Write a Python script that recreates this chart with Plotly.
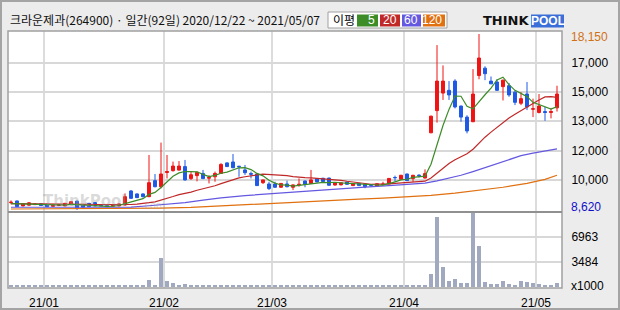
import pandas as pd
import plotly.graph_objects as go

# ---------------- data ----------------
holidays = ["2020-12-25", "2020-12-31", "2021-01-01", "2021-02-11",
            "2021-02-12", "2021-03-01", "2021-05-05"]
dates = [d for d in pd.bdate_range("2020-12-22", "2021-05-07")
         if d.strftime("%Y-%m-%d") not in holidays]

opens = [9020, 9110, 8840, 8880, 8910, 8960, 8930, 8820, 8860, 8840,
         8950, 9100, 8890, 8980, 9020, 8900, 8860, 8830, 8840, 8890,
         9650, 9490, 9490, 9340, 10210, 9880, 10650, 10750, 10780, 10970,
         10320, 10480, 10600, 10340, 10420, 10600, 11170, 11220, 10990, 10790,
         10590, 10570, 10100, 10030, 10030, 9850, 10030, 9850, 9990, 10190,
         10060, 10320, 10340, 10350, 9970, 9980, 10130, 9940, 10060, 10020,
         9980, 9920, 10000, 10030, 10380, 10280, 10570, 10320, 10510, 10350,
         12800, 14000, 14950, 15100, 15600, 14250, 13650, 13400, 15900, 16300,
         15600, 15550, 15300, 15350, 15000, 14400, 14900, 14080, 13900, 13950,
         13900, 14150]
highs = [9140, 9130, 8970, 9050, 8980, 8980, 8950, 8900, 8940, 9000,
         9090, 9120, 8900, 9000, 9030, 8920, 8880, 8890, 8970, 9520,
         9700, 9520, 9520, 11600, 10570, 12270, 11600, 11240, 11270, 11330,
         10700, 10700, 10790, 10500, 10700, 11150, 11200, 11650, 11010, 11060,
         10700, 10590, 10260, 10150, 10150, 10080, 10210, 10000, 10330, 10210,
         10790, 10340, 10360, 10370, 10120, 10120, 10150, 10070, 10080, 10040,
         10000, 10060, 10150, 10350, 10480, 10520, 10590, 10520, 10550, 10820,
         13730, 17550, 16450, 15600, 15700, 14270, 13750, 16250, 18150, 16400,
         15850, 15700, 15680, 15500, 15100, 15000, 15550, 14650, 14900, 14200,
         14150, 15350]
lows = [8930, 8790, 8820, 8860, 8890, 8840, 8780, 8800, 8840, 8830,
        8930, 8620, 8750, 8790, 8820, 8830, 8780, 8810, 8820, 8870,
        9230, 9270, 9300, 9320, 9850, 9790, 10330, 10700, 10760, 10210,
        10250, 10170, 10300, 10060, 10150, 10580, 10950, 10880, 10420, 10520,
        10330, 9920, 10030, 9700, 9830, 9830, 9850, 9700, 9880, 9850,
        10040, 10120, 10140, 9940, 9950, 9960, 9990, 9920, 9920, 9800,
        9880, 9900, 9990, 10010, 10150, 10260, 10190, 10150, 10380, 10330,
        12780, 13350, 14580, 14580, 14120, 13400, 12770, 13380, 15700, 15650,
        15450, 15080, 14550, 14750, 14300, 14300, 14030, 13650, 13850, 13450,
        13580, 13950]
closes = [9040, 8800, 8950, 9010, 8940, 8860, 8800, 8860, 8900, 8980,
          9070, 8710, 8770, 8800, 8840, 8850, 8800, 8870, 8950, 9340,
          9250, 9290, 9340, 10100, 9880, 10570, 10700, 11000, 11000, 10250,
          10530, 10660, 10320, 10380, 10600, 11090, 10970, 10910, 10960, 10640,
          10560, 9940, 10250, 9780, 9850, 10060, 9880, 9980, 10010, 10010,
          10250, 10140, 10160, 9960, 10100, 10100, 10010, 10050, 9940, 9880,
          9960, 10040, 10020, 10330, 10370, 10500, 10210, 10500, 10480, 10590,
          13700, 15600, 15600, 14850, 14200, 13650, 12900, 14900, 16850, 16000,
          15450, 15100, 15650, 14850, 14450, 14650, 14200, 14100, 14250, 13900,
          13950, 14900]
volumes = [160, 150, 130, 170, 140, 150, 120, 140, 130, 160,
           180, 200, 150, 140, 130, 120, 140, 130, 150, 180,
           170, 160, 150, 1000, 290, 4050, 850, 520, 240, 380,
           150, 130, 140, 120, 150, 240, 140, 240, 150, 130,
           140, 160, 130, 150, 140, 130, 120, 140, 150, 130,
           240, 150, 140, 130, 120, 140, 150, 130, 140, 120,
           130, 140, 150, 160, 140, 130, 150, 140, 160, 240,
           1790, 9820, 2780, 800, 1080, 520, 520, 10450, 5730, 660,
           380, 380, 800, 380, 240, 800, 660, 520, 380, 240,
           240, 520]

# warm-up values of the short averages (before enough closes exist)
ma5_head = [8970, 8960, 8950, 8950]
ma20_head = [8960, 8960, 8955, 8950, 8950, 8945, 8940, 8940, 8935, 8930,
             8930, 8925, 8920, 8920, 8915, 8910, 8910, 8905, 8900]
# long averages
ma60_idx = [0, 20, 23, 26, 29, 32, 35, 39, 43, 47, 51, 55, 59, 63, 67, 69,
            71, 73, 75, 77, 79, 81, 83, 85, 87, 89, 91]
ma60_val = [8770, 8780, 8850, 8930, 9020, 9150, 9280, 9400, 9500, 9600, 9700,
            9780, 9860, 9940, 10020, 10080, 10200, 10340, 10500, 10700, 10920,
            11150, 11380, 11560, 11700, 11830, 11930]
ma120_idx = [0, 22, 25, 30, 34, 38, 42, 46, 50, 54, 58, 62, 66, 70, 74, 78,
             82, 86, 89, 91]
ma120_val = [8675, 8680, 8720, 8760, 8830, 8890, 8960, 9030, 9090, 9150, 9210,
             9260, 9330, 9410, 9530, 9680, 9850, 10060, 10280, 10500]

price_tick_text = ["10,000", "12,000", "13,000", "15,000", "17,000"]
vol_tick_vals = [3484, 6963]
month_labels = ["21/01", "21/02", "21/03", "21/04", "21/05"]
title_text = "크라운제과(264900) · 일간(92일) 2020/12/22 ~ 2021/05/07"

# ---------------- derived ----------------
x = list(range(len(dates)))
c = pd.Series(closes, dtype=float)
ma5 = c.rolling(5).mean()
ma5.iloc[:4] = ma5_head
ma20 = c.rolling(20).mean()
ma20.iloc[:19] = ma20_head

month_starts = []
for i in range(1, len(dates)):
    if dates[i].month != dates[i - 1].month:
        month_starts.append(i - 0.5)

# ---------------- style / layout geometry ----------------
W, H = 620, 310
L, R, T, B = 8, 562, 31, 288
SEP = 212
def px(v):
    return (v - L) / (R - L)
def py(v):
    return (B - v) / (B - T)

RED = "#f01414"
BLUE = "#1e5ae6"
C5, C20, C60, C120 = "#3c8c28", "#c02828", "#6458e0", "#e07010"
LBL_FONT = "Liberation Sans"
KO_FONT = "Noto Sans CJK KR"

# price axis: minimum low sits 2px above bottom, per-pixel scale from picture
p_per_px = (max(highs) - min(lows)) / 176.0
p_lo = min(lows) - 2 * p_per_px
p_hi = p_lo + (SEP - T) * p_per_px
grid_px = [180, 151, 121, 92, 63]
price_tick_vals = [p_lo + (SEP - g) * p_per_px for g in grid_px]

v_per_px = max(volumes) / 74.3
v_lo = -(B - 286.7) * v_per_px
v_hi = (286.7 - SEP) * v_per_px

xr = [-0.5, -0.5 + (R - L) / 6.0]

fig = go.Figure()
fig.add_trace(go.Scatter(x=ma120_idx, y=ma120_val, mode="lines",
                         line=dict(color=C120, width=1.2), xaxis="x", yaxis="y",
                         hoverinfo="skip"))
fig.add_trace(go.Scatter(x=ma60_idx, y=ma60_val, mode="lines",
                         line=dict(color=C60, width=1.2), xaxis="x", yaxis="y",
                         hoverinfo="skip"))
fig.add_trace(go.Scatter(x=x, y=ma20, mode="lines",
                         line=dict(color=C20, width=1.2), xaxis="x", yaxis="y",
                         hoverinfo="skip"))
fig.add_trace(go.Scatter(x=x, y=ma5, mode="lines",
                         line=dict(color=C5, width=1.2), xaxis="x", yaxis="y",
                         hoverinfo="skip"))
fig.add_trace(go.Candlestick(
    x=x, open=opens, high=highs, low=lows, close=closes,
    increasing=dict(line=dict(color=RED, width=1), fillcolor=RED),
    decreasing=dict(line=dict(color=BLUE, width=1), fillcolor=BLUE),
    whiskerwidth=0, xaxis="x", yaxis="y"))
fig.add_trace(go.Bar(x=x, y=volumes, width=0.8, marker=dict(color="#a0a9c0", line=dict(width=0)),
                     xaxis="x2", yaxis="y2", hoverinfo="skip"))

shapes = [
    dict(type="rect", xref="paper", yref="paper", x0=px(1), x1=px(619), y0=py(309), y1=py(1),
         line=dict(color="#a4a4a4", width=2), layer="below"),
    dict(type="rect", xref="paper", yref="paper", x0=0, x1=1, y0=0, y1=1,
         line=dict(color="#a0a0a0", width=1.5)),
    dict(type="line", xref="paper", yref="paper", x0=0, x1=1, y0=py(SEP), y1=py(SEP),
         line=dict(color="#909090", width=2)),
    dict(type="rect", xref="paper", yref="paper", x0=px(328), x1=px(447), y0=py(28), y1=py(12),
         fillcolor="white", line=dict(color="#a0a0a0", width=1)),
]
legend_boxes = [(357, 378, C5, "5"), (380, 400, C20, "20"), (402, 421, C60, "60"), (423, 445, C120, "120")]
annotations = []
for x0, x1, col, txt in legend_boxes:
    shapes.append(dict(type="rect", xref="paper", yref="paper", x0=px(x0), x1=px(x1),
                       y0=py(26.5), y1=py(14.5), fillcolor=col, line=dict(width=0)))
    annotations.append(dict(text=txt, xref="paper", yref="paper", x=px(x1 - 1), y=py(20.5),
                            xanchor="right", yanchor="middle", showarrow=False,
                            font=dict(family=LBL_FONT, size=12, color="white")))
annotations.append(dict(text="이평", xref="paper", yref="paper", x=px(344), y=py(20),
                        xanchor="center", yanchor="middle", showarrow=False,
                        font=dict(family=KO_FONT, size=12, color="#000000")))
annotations.append(dict(text=title_text, xref="paper", yref="paper", x=px(8), y=py(20),
                        xanchor="left", yanchor="middle", showarrow=False,
                        font=dict(family=KO_FONT, size=12, color="#111111")))
# logo
shapes.append(dict(type="rect", xref="paper", yref="paper", x0=px(531), x1=px(564),
                   y0=py(27.5), y1=py(14.5), fillcolor="#3a6ed8", line=dict(width=0)))
annotations.append(dict(text="<b>THINK</b>", xref="paper", yref="paper", x=px(531), y=py(21),
                        xanchor="right", yanchor="middle", showarrow=False,
                        font=dict(family="DejaVu Sans", size=13, color="#111111")))
annotations.append(dict(text="<b>POOL</b>", xref="paper", yref="paper", x=px(547.5), y=py(21),
                        xanchor="center", yanchor="middle", showarrow=False,
                        font=dict(family=LBL_FONT, size=12, color="white")))
# watermark
annotations.append(dict(text="<b>ThinkPool</b>", xref="paper", yref="paper", x=px(84), y=py(201),
                        xanchor="center", yanchor="middle", showarrow=False,
                        font=dict(family="DejaVu Sans", size=15, color="rgba(150,150,150,0.35)")))
annotations.append(dict(text=".com", xref="paper", yref="paper", x=px(153), y=py(205),
                        xanchor="center", yanchor="middle", showarrow=False,
                        font=dict(family="DejaVu Sans", size=10, color="rgba(150,150,150,0.35)")))
# axis extreme labels
annotations.append(dict(text="18,150", xref="paper", yref="paper", x=px(569), y=py(37),
                        xanchor="left", yanchor="middle", showarrow=False,
                        font=dict(family=LBL_FONT, size=12, color="#d27014")))
annotations.append(dict(text="8,620", xref="paper", yref="paper", x=px(569), y=py(207),
                        xanchor="left", yanchor="middle", showarrow=False,
                        font=dict(family=LBL_FONT, size=12, color="#1010c8")))
annotations.append(dict(text="x1000", xref="paper", yref="paper", x=px(569), y=py(286),
                        xanchor="left", yanchor="middle", showarrow=False,
                        font=dict(family=LBL_FONT, size=12, color="#000000")))

axis_common = dict(showline=False, zeroline=False, fixedrange=True, automargin=False)
fig.update_layout(
    template="none",
    width=W, height=H,
    margin=dict(l=L, r=W - R, t=T, b=H - B, pad=0),
    paper_bgcolor="#ececec", plot_bgcolor="white",
    showlegend=False, boxgap=0.3, bargap=0,
    shapes=shapes, annotations=annotations,
    xaxis=dict(domain=[0, 1], anchor="y", range=xr, tickvals=month_starts,
               showticklabels=False, showgrid=True, gridcolor="#dcdcdc", gridwidth=1.5,
               ticks="", rangeslider=dict(visible=False), **axis_common),
    xaxis2=dict(domain=[0, 1], anchor="y2", range=xr, tickvals=month_starts,
                ticktext=month_labels, showgrid=True, gridcolor="#dcdcdc", gridwidth=1.5,
                ticks="outside", ticklen=4, tickcolor="rgba(0,0,0,0)",
                tickfont=dict(family=LBL_FONT, size=12, color="#000000"), **axis_common),
    yaxis=dict(domain=[py(SEP), 1], anchor="x", side="right", range=[p_lo, p_hi],
               tickvals=price_tick_vals, ticktext=price_tick_text,
               showgrid=True, gridcolor="#d8d8d8", gridwidth=1.5,
               ticks="outside", ticklen=6, tickcolor="rgba(0,0,0,0)",
               tickfont=dict(family=LBL_FONT, size=12, color="#000000"), **axis_common),
    yaxis2=dict(domain=[0, py(SEP)], anchor="x2", side="right", range=[v_lo, v_hi],
                tickvals=vol_tick_vals, ticktext=[str(v) for v in vol_tick_vals],
                showgrid=True, gridcolor="#d8d8d8", gridwidth=1.5,
                ticks="outside", ticklen=6, tickcolor="rgba(0,0,0,0)",
                tickfont=dict(family=LBL_FONT, size=12, color="#000000"), **axis_common),
)

fig.write_html("out.html")
